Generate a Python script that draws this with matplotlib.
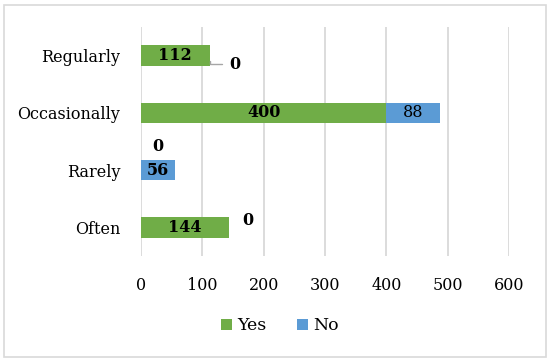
import matplotlib
matplotlib.use("Agg")
import matplotlib.pyplot as plt
from matplotlib.patches import FancyBboxPatch

categories = ["Often", "Rarely", "Occasionally", "Regularly"]
yes_vals = [144, 0, 400, 112]
no_vals = [0, 56, 88, 0]
x_ticks = [0, 100, 200, 300, 400, 500, 600]

GREEN = "#70AD47"
BLUE = "#5B9BD5"
FONT = "DejaVu Serif"

plt.rcParams["font.family"] = [FONT]

fig = plt.figure(figsize=(5.5, 3.61), dpi=100)
ax = fig.add_axes([141/550, 1 - 256/361, (509-141)/550, (256-27)/361])

y = list(range(len(categories)))
h = 0.36
ax.barh(y, yes_vals, height=h, color=GREEN, label="Yes", zorder=3)
ax.barh(y, no_vals, left=yes_vals, height=h, color=BLUE, label="No", zorder=3)

ax.set_xlim(0, 600)
ax.set_ylim(-0.5, len(categories) - 0.5)
ax.set_xticks(x_ticks)
ax.set_xticklabels([str(t) for t in x_ticks], fontsize=11.5)
ax.set_yticks(y)
ax.set_yticklabels(categories, fontsize=11.5)
ax.tick_params(axis="both", length=0)
ax.tick_params(axis="x", pad=15)
ax.tick_params(axis="y", pad=15)
ax.grid(axis="x", color="#D9D9D9", linewidth=1.3, zorder=0)
for s in ax.spines.values():
    s.set_visible(False)

LBL = 11.5
# labels
for i, (yv, nv) in enumerate(zip(yes_vals, no_vals)):
    if yv > 0:
        ax.text(yv / 2, i, str(yv), ha="center", va="center", fontsize=LBL,
                fontweight="bold", zorder=5)
    if nv > 0:
        ax.text(yv + nv / 2, i, str(nv), ha="center", va="center", fontsize=LBL,
                fontweight="bold" if yv == 0 else "normal", zorder=5)

# zero labels
# Regularly No = 0 with leader line
i = categories.index("Regularly")
ax.annotate(str(no_vals[i]), xy=(yes_vals[i], i - 0.1), xytext=(14, -2), textcoords="offset points",
            ha="left", va="center", fontsize=LBL, fontweight="bold",
            arrowprops=dict(arrowstyle="-", color="#A6A6A6", lw=1,
                            connectionstyle="angle,angleA=0,angleB=90,rad=0",
                            shrinkA=3, shrinkB=0))
# Rarely Yes = 0 above bar
i = categories.index("Rarely")
ax.annotate(str(yes_vals[i]), xy=(no_vals[i] / 2, i), xytext=(0, 17), textcoords="offset points",
            ha="center", va="center", fontsize=LBL, fontweight="bold")
# Often No = 0
i = categories.index("Often")
ax.annotate(str(no_vals[i]), xy=(yes_vals[i], i), xytext=(13, 5), textcoords="offset points",
            ha="center", va="center", fontsize=LBL, fontweight="bold")

leg = fig.legend(loc="center", bbox_to_anchor=(280/550, 1 - 326/361), ncol=2, frameon=False,
                 fontsize=12.5, handlelength=0.6, handleheight=0.6, handletextpad=0.3,
                 columnspacing=1.8)

border = FancyBboxPatch((4/550, 4/361), 542/550, 352/361, boxstyle="square,pad=0",
                        transform=fig.transFigure, fill=False, edgecolor="#D9D9D9", lw=1.2)
fig.patches.append(border)

fig.savefig("out.png", dpi=100)
